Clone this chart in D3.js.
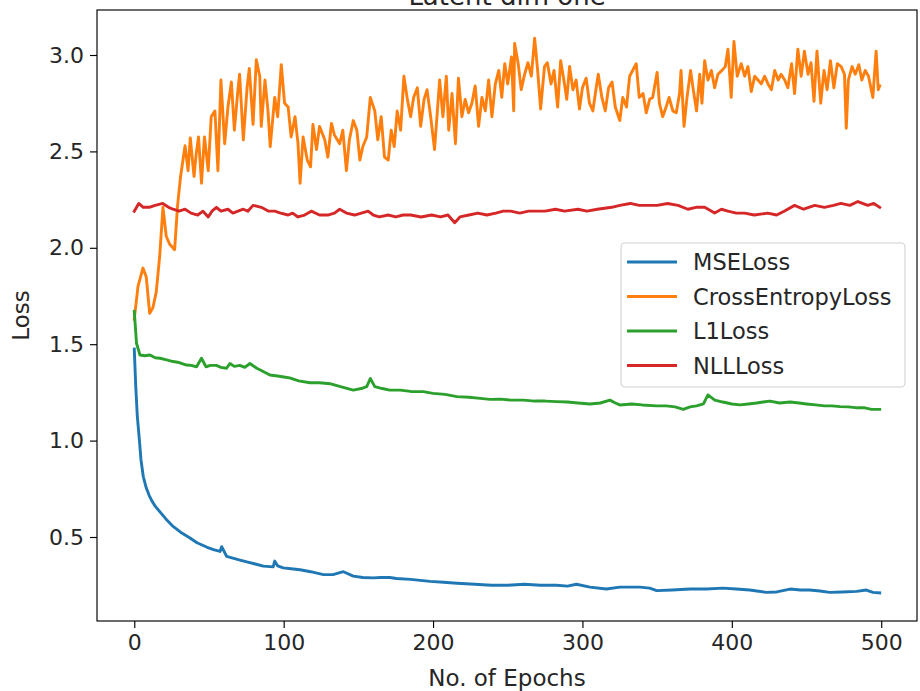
<!DOCTYPE html>
<html>
<head>
<meta charset="utf-8">
<script src="https://cdn.jsdelivr.net/npm/d3@7"></script>
<style>
  body { margin: 0; background: #fff; }
  svg { display: block; font-family: "DejaVu Sans", sans-serif; }
</style>
</head>
<body>
<svg id="chart" width="920" height="691"></svg>
<script>
// values (epoch, loss)
var mseEpoch = [0,1,2,3.4,4.5,6,8,10,11.6,14,17.2,21,26,31,37.3,42,48.4,53,57.4,58.5,61.8,66,70.8,76,81,86.4,93,94,96,99.7,105,111,118,126.6,133,140,146.6,153,160,165,171,175.5,185,198,207,216,228,239,250,261,272,282.7,290,296,305,316,325,338.5,345,349.7,360,372,383,394,403,412,423,430,439,446,452,459,465.5,474,483.5,490,494.5,499];
var mseLoss  = [1.475,1.28,1.13,1.005,0.90,0.815,0.755,0.715,0.69,0.66,0.63,0.595,0.555,0.525,0.495,0.47,0.448,0.435,0.425,0.45,0.40,0.39,0.38,0.37,0.36,0.349,0.345,0.375,0.35,0.34,0.335,0.33,0.32,0.305,0.305,0.32,0.297,0.29,0.288,0.29,0.29,0.285,0.28,0.27,0.265,0.26,0.255,0.25,0.25,0.255,0.25,0.25,0.245,0.255,0.24,0.23,0.24,0.24,0.235,0.222,0.225,0.23,0.23,0.235,0.23,0.225,0.213,0.215,0.23,0.225,0.225,0.22,0.213,0.215,0.218,0.225,0.213,0.21];

var ceEpoch = [0,2.5,5.8,8,10.3,12.5,14.7,17,19.2,21.4,23.6,27,29,31,34,36,37.5,40,41.5,43,45,47,49.5,51.5,54,56,58,60.5,62.7,65,67,69.4,70.5,73,75.5,77,79.5,81.7,84,85,87.5,89.5,91,94,96,98.4,100.6,103,105,107.6,109.6,111,113,115.8,118,119.6,122,124,127.5,129.6,132,134,137.5,139.6,142,144,146.6,149,151,153,155.6,158,161,163,165.3,167.5,170,172,174,176,178.3,180.5,182.8,185,187,189.5,191.7,194,196,198.4,201,204.4,206.6,208.9,210.5,212.7,215,217,219.3,221.5,223.8,226,228.2,230.5,232.7,235,237.2,239.4,241.7,244,246,248,250,252.5,254,254.6,257,259,261.3,263.5,265.8,268,270,272,274.6,276.5,279,281,283.4,285.4,288,289.5,291.4,293.6,295.8,298,300,302.5,304.7,307,309,310.6,313,315.3,317.5,319.8,322,325,327,329.5,331.6,336,338,340.6,342.7,345,347,350,351.5,353.7,356,358,360.5,362.8,365,366,368,370,372.4,374,376.4,378.5,380,381.8,384,386.3,388.5,390.7,393.4,395.6,397.4,399.6,401.4,403.6,406.3,408.6,410.8,413,415.3,417.5,419.7,422,424.2,426.5,428.7,431,433,435.4,437.5,440,442,444.2,446.4,448.6,451,453,455,457,459.5,461.7,463.8,466,468.3,470.6,473.2,475.4,476.6,478,480.5,482.6,485,487,489.3,491.5,494.4,496.6,498,499];
var ceLoss  = [1.63,1.80,1.895,1.85,1.66,1.69,1.77,1.955,2.21,2.06,2.02,1.99,2.22,2.37,2.53,2.40,2.57,2.37,2.49,2.575,2.335,2.575,2.40,2.68,2.71,2.40,2.87,2.54,2.73,2.86,2.61,2.82,2.90,2.56,2.83,2.93,2.64,2.975,2.89,2.63,2.87,2.71,2.525,2.78,2.68,2.95,2.75,2.73,2.575,2.68,2.54,2.335,2.575,2.455,2.42,2.64,2.51,2.63,2.56,2.47,2.645,2.585,2.54,2.61,2.40,2.56,2.66,2.61,2.455,2.525,2.575,2.78,2.71,2.56,2.68,2.47,2.455,2.61,2.525,2.71,2.61,2.89,2.77,2.68,2.78,2.83,2.63,2.77,2.82,2.68,2.51,2.87,2.68,2.89,2.61,2.80,2.54,2.88,2.68,2.77,2.70,2.75,2.84,2.63,2.78,2.71,2.87,2.68,2.85,2.92,2.78,2.955,2.85,2.99,2.71,3.06,2.955,2.82,2.90,2.96,2.89,3.087,2.92,2.72,2.94,2.96,2.85,2.92,2.73,2.97,2.85,2.77,2.94,2.82,2.87,2.72,2.83,2.88,2.75,2.71,2.82,2.90,2.78,2.71,2.83,2.86,2.73,2.66,2.78,2.73,2.89,2.955,2.78,2.80,2.70,2.77,2.78,2.91,2.75,2.68,2.73,2.78,2.71,2.70,2.80,2.92,2.63,2.78,2.92,2.83,2.71,2.90,2.75,2.97,2.87,2.92,2.83,2.90,2.92,2.94,3.03,2.78,3.07,2.89,2.955,2.89,2.94,2.81,2.89,2.87,2.85,2.89,2.85,2.82,2.92,2.87,2.90,2.87,2.83,2.955,2.80,3.03,2.89,3.02,2.90,2.96,2.76,3.02,2.75,2.92,2.82,2.97,2.83,2.955,2.94,2.90,2.62,2.87,2.94,2.90,2.95,2.87,2.92,2.89,2.78,3.02,2.82,2.84];

var l1Epoch = [0,1.5,3.8,7,10.5,14,17.2,21,26,30,35,38,41.7,45,48,51,55,58,61.8,64,67,70.6,74,77.4,82,86,90.8,96,100,104,110,117.6,124,131,138,146.6,152,155.6,158,161,166,171,178,185,193.5,200,208,216,224,230,238,245,252,260.7,268,275,282.7,290,297,305,312,318.4,322,325,333,340,349.7,356,362,367.5,372,376.4,381,384,388.6,394,400,405.4,411,416.6,421,425.5,432,439,445,450,456,462,467,472.6,478,484,489,493.5,499];
var l1Loss  = [1.67,1.505,1.444,1.44,1.444,1.43,1.427,1.42,1.41,1.405,1.392,1.39,1.383,1.427,1.383,1.39,1.39,1.38,1.375,1.40,1.385,1.39,1.38,1.40,1.375,1.36,1.34,1.335,1.33,1.325,1.31,1.30,1.30,1.295,1.28,1.262,1.27,1.28,1.322,1.28,1.27,1.262,1.262,1.255,1.254,1.245,1.24,1.228,1.225,1.22,1.214,1.215,1.21,1.21,1.205,1.205,1.202,1.20,1.195,1.19,1.195,1.21,1.195,1.185,1.19,1.185,1.18,1.18,1.175,1.162,1.175,1.18,1.19,1.237,1.21,1.20,1.19,1.185,1.19,1.195,1.20,1.205,1.195,1.20,1.195,1.19,1.185,1.18,1.18,1.176,1.175,1.17,1.17,1.162,1.162];

var nllEpoch = [0,3,6,10,14,19,23,26,30,34,38,42.5,46,49.5,52,55,58,62.7,66,69.4,73,76,79.5,85,90,94,98,103,106,109.6,114,118.5,124,129.6,134,137.5,142,147.5,152,156.5,160,164,170,175,180,185,192,199,205,210,214.5,218,224,230,236,242,247,252,258,264,270,275,282,288,297,303,310,319.6,325,332,338,344,350,357,364,370.6,376,381.8,388.5,393,397.4,403,408.6,415,424,430,435,442,448,455.5,462,468,473,479,484.4,491,495,499];
var nllLoss  = [2.19,2.23,2.21,2.21,2.22,2.23,2.21,2.20,2.19,2.20,2.18,2.17,2.19,2.16,2.19,2.21,2.19,2.20,2.18,2.19,2.20,2.19,2.22,2.21,2.19,2.19,2.18,2.17,2.18,2.16,2.17,2.19,2.17,2.17,2.18,2.20,2.18,2.17,2.18,2.19,2.17,2.16,2.17,2.16,2.17,2.17,2.16,2.17,2.16,2.17,2.13,2.16,2.17,2.18,2.17,2.18,2.19,2.19,2.18,2.19,2.19,2.19,2.20,2.19,2.20,2.19,2.20,2.21,2.22,2.23,2.22,2.22,2.22,2.23,2.22,2.20,2.21,2.21,2.18,2.20,2.19,2.18,2.18,2.17,2.18,2.17,2.19,2.22,2.20,2.22,2.21,2.22,2.23,2.22,2.24,2.22,2.23,2.21];

var seriesNames  = ["MSELoss", "CrossEntropyLoss", "L1Loss", "NLLLoss"];
var seriesColors = ["#1f77b4", "#ff7f0e", "#2ca02c", "#d62728"];
var xTicks = [0, 100, 200, 300, 400, 500];
var yTicks = [0.5, 1.0, 1.5, 2.0, 2.5, 3.0];

var series = [
    { name: seriesNames[0], color: seriesColors[0], x: mseEpoch, y: mseLoss },
    { name: seriesNames[1], color: seriesColors[1], x: ceEpoch,  y: ceLoss },
    { name: seriesNames[2], color: seriesColors[2], x: l1Epoch,  y: l1Loss },
    { name: seriesNames[3], color: seriesColors[3], x: nllEpoch, y: nllLoss }
];

// plot box (note: "top" is reserved on window, so prefix these)
var plotLeft = 97, plotRight = 917, plotTop = 10, plotBottom = 621;

var svg = d3.select("#chart");

var xScale = d3.scaleLinear().domain([-24.95, 523.95]).range([plotLeft, plotRight]);
var yScale = d3.scaleLinear().domain([0.0643, 3.2334]).range([plotBottom, plotTop]);

svg.append("defs").append("clipPath").attr("id", "plotclip")
    .append("rect")
    .attr("x", plotLeft).attr("y", plotTop)
    .attr("width", plotRight - plotLeft).attr("height", plotBottom - plotTop);

var line = d3.line()
    .x(function(d) { return xScale(d[0]); })
    .y(function(d) { return yScale(d[1]); });

var plot = svg.append("g").attr("clip-path", "url(#plotclip)");

series.forEach(function(s) {
    var pts = s.x.map(function(e, i) { return [e, s.y[i]]; });
    plot.append("path")
        .datum(pts)
        .attr("fill", "none")
        .attr("stroke", s.color)
        .attr("stroke-width", 2.9)
        .attr("stroke-linejoin", "round")
        .attr("stroke-linecap", "square")
        .attr("d", line);
});

// axes
var xAxis = svg.append("g")
    .attr("transform", "translate(0," + plotBottom + ")")
    .call(d3.axisBottom(xScale).tickValues(xTicks).tickSizeInner(7).tickSizeOuter(0).tickPadding(6)
        .tickFormat(d3.format("d")));

var yAxis = svg.append("g")
    .attr("transform", "translate(" + plotLeft + ",0)")
    .call(d3.axisLeft(yScale).tickValues(yTicks).tickSizeInner(7).tickSizeOuter(0).tickPadding(6)
        .tickFormat(d3.format(".1f")));

[xAxis, yAxis].forEach(function(a) {
    a.select(".domain").remove();
    a.selectAll("line").attr("stroke", "#000").attr("stroke-width", 1.15);
    a.selectAll("text")
        .attr("font-family", "DejaVu Sans, sans-serif")
        .attr("font-size", 22)
        .attr("fill", "#262626");
});

// frame
svg.append("rect")
    .attr("x", plotLeft).attr("y", plotTop)
    .attr("width", plotRight - plotLeft).attr("height", plotBottom - plotTop)
    .attr("fill", "none")
    .attr("stroke", "#000")
    .attr("stroke-width", 1.15);

// title and labels
svg.append("text")
    .attr("x", (plotLeft + plotRight) / 2).attr("y", 5)
    .attr("text-anchor", "middle")
    .attr("font-size", 26)
    .attr("fill", "#262626")
    .text("Latent dim one");

svg.append("text")
    .attr("x", (plotLeft + plotRight) / 2).attr("y", 686)
    .attr("text-anchor", "middle")
    .attr("font-size", 23)
    .attr("fill", "#262626")
    .text("No. of Epochs");

svg.append("text")
    .attr("transform", "translate(29," + ((plotTop + plotBottom) / 2) + ") rotate(-90)")
    .attr("text-anchor", "middle")
    .attr("font-size", 23)
    .attr("fill", "#262626")
    .text("Loss");

// legend
var lg = svg.append("g");
lg.append("rect")
    .attr("x", 621).attr("y", 243)
    .attr("width", 284).attr("height", 144)
    .attr("rx", 4)
    .attr("fill", "#fff").attr("fill-opacity", 0.8)
    .attr("stroke", "#d0d0d0").attr("stroke-width", 1.1);

series.forEach(function(s, i) {
    var yy = 262 + i * 34.5;
    lg.append("line")
        .attr("x1", 627).attr("x2", 677)
        .attr("y1", yy).attr("y2", yy)
        .attr("stroke", s.color).attr("stroke-width", 2.9);
    lg.append("text")
        .attr("x", 693).attr("y", yy)
        .attr("dy", "0.36em")
        .attr("font-size", 22.5)
        .attr("fill", "#262626")
        .text(s.name);
});
</script>
</body>
</html>
